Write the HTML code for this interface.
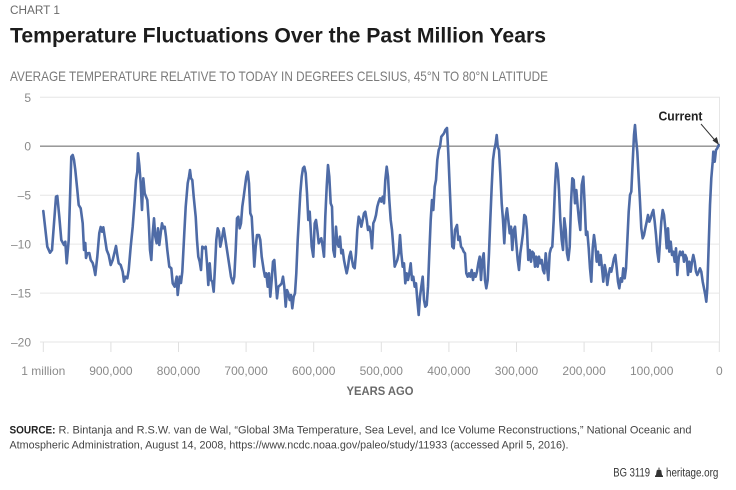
<!DOCTYPE html>
<html><head><meta charset="utf-8"><style>
html,body{margin:0;padding:0;background:#fff;}
svg{display:block;font-family:"Liberation Sans",sans-serif;}
</style></head><body>
<svg width="736" height="490" viewBox="0 0 736 490" xmlns="http://www.w3.org/2000/svg">
<rect width="736" height="490" fill="#fff"/>
<text x="10" y="14" font-size="11.5" fill="#6a6a6a" textLength="50" lengthAdjust="spacingAndGlyphs">CHART 1</text>
<text x="10" y="42.7" font-size="21.5" font-weight="bold" fill="#1c1c1c" textLength="536" lengthAdjust="spacingAndGlyphs">Temperature Fluctuations Over the Past Million Years</text>
<text x="10" y="81" font-size="14" fill="#7a7a7a" textLength="538" lengthAdjust="spacingAndGlyphs">AVERAGE TEMPERATURE RELATIVE TO TODAY IN DEGREES CELSIUS, 45°N TO 80°N LATITUDE</text>
<!-- gridlines -->
<g stroke="#e6e6e6" stroke-width="1">
<line x1="40" y1="97.3" x2="720" y2="97.3"/>
<line x1="40" y1="195.2" x2="720" y2="195.2"/>
<line x1="40" y1="244.1" x2="720" y2="244.1"/>
<line x1="40" y1="293.1" x2="720" y2="293.1"/>
<line x1="40" y1="342" x2="720" y2="342"/>
<line x1="719.5" y1="97.3" x2="719.5" y2="342"/>
</g>
<g stroke="#e0e0e0" stroke-width="1">
<line x1="43.3" y1="342" x2="43.3" y2="352"/>
<line x1="110.9" y1="342" x2="110.9" y2="352"/>
<line x1="178.5" y1="342" x2="178.5" y2="352"/>
<line x1="246.1" y1="342" x2="246.1" y2="352"/>
<line x1="313.7" y1="342" x2="313.7" y2="352"/>
<line x1="381.3" y1="342" x2="381.3" y2="352"/>
<line x1="448.9" y1="342" x2="448.9" y2="352"/>
<line x1="516.5" y1="342" x2="516.5" y2="352"/>
<line x1="584.1" y1="342" x2="584.1" y2="352"/>
<line x1="651.7" y1="342" x2="651.7" y2="352"/>
<line x1="719.3" y1="342" x2="719.3" y2="352"/>
</g>
<line x1="40" y1="146.2" x2="720" y2="146.2" stroke="#8c8c8c" stroke-width="1.3"/>
<!-- y labels -->
<g font-size="12" fill="#8a8a8a" text-anchor="end">
<text x="31" y="101.8">5</text>
<text x="31" y="150.7">0</text>
<text x="31" y="199.7">–5</text>
<text x="31" y="248.6">–10</text>
<text x="31" y="297.6">–15</text>
<text x="31" y="346.5">–20</text>
</g>
<!-- x labels -->
<g font-size="12" fill="#8a8a8a" text-anchor="middle">
<text x="43.3" y="375">1 million</text>
<text x="110.9" y="375">900,000</text>
<text x="178.5" y="375">800,000</text>
<text x="246.1" y="375">700,000</text>
<text x="313.7" y="375">600,000</text>
<text x="381.3" y="375">500,000</text>
<text x="448.9" y="375">400,000</text>
<text x="516.5" y="375">300,000</text>
<text x="584.1" y="375">200,000</text>
<text x="651.7" y="375">100,000</text>
<text x="719.3" y="375">0</text>
</g>
<text x="346.5" y="395" font-size="11.5" font-weight="bold" fill="#6a6a6a" textLength="67" lengthAdjust="spacingAndGlyphs">YEARS AGO</text>
<!-- series -->
<polyline fill="none" stroke="#4e6ba6" stroke-width="2.6" stroke-linejoin="round" stroke-linecap="round" points="
43.3,211 47.3,246.7 50,252.7 52,250 56,196.7 57.3,196 59.3,216.7 61.3,240 64,245 65.3,241.7 66.7,263.3 68.7,240 71.3,156.7 72.7,155 74,160 75.3,170 77.3,190 78.7,205 80.7,208.3 82.7,223.3 84,250 85.3,243 86,258 87.3,253.3 89.3,253 90.7,260 92.7,263 94,268 95.3,275 97.3,256.7 99.3,233 100.7,227 102,231.7 103.3,227.3 104.7,236.7 106.7,250 108.7,255 110.7,265 112.7,260 114.7,251.7 116,246 117.3,255 118.7,263.3 120.7,265 122.7,271.7 124,281.7 125.3,276.7 127.3,278.3 128.7,270 130.7,246.7 132.7,226.7 134.7,200 136,180 137.3,171.7 138,153.3 139.3,165 140.7,183.3 142,210 143.3,178.3 144.7,193.3 146,196.7 147.3,200 148.7,220 150,250 151.3,260 152.7,233.3 154,218.3 155.3,236.7 156.7,243.3 158,228.3 159.3,245 160.7,233.3 162,223.3 163.3,228.3 164.7,226.7 166,236.7 167.3,250 169.3,266.7 171.3,268.3 172.7,283.3 174.7,286.7
176.7,276.7 177.7,295 179.7,276.7 181,283 182.3,271.7 184.3,233 185.7,206.7 187.7,183.3 189,176.7 190,170 191,178.3 192.3,180 193.7,196.7 195.7,216.7 197,240 198.3,256.7 199.7,261.7 201,270 202.3,246.7 204.3,248.3 205.7,246.7 207,263.3 208.3,285 209.7,263.3 211,280 212.3,281.7 213.7,291.7 215,266.7 216.3,240 217.7,228.3 219,231.7 220.3,246.7 221.7,240 223.7,228.3 225,236.7 227,250 229,263.3 231,276.7 233,283.3 234.3,276.7 235.7,250 237,218.3 238.3,216.7 239.7,228.3 241,223.3 242.3,206.7 243.7,196.7 245,186.7 246.3,176.7 247.7,171.7 249,183.3 250.3,213.3 251.7,216.7 253,240 254.3,266.7 255.7,246.7 257,235 259,235 260.3,240 261.7,256.7 263.7,270 265,276.7 266.3,273.3 267.7,286.7 269,273.3 270.3,296.7 271.7,280 273,261.7 274.3,260 275.7,280 277,298.3 278.3,286.7 280.3,285 281.7,283.3 283,276.7 284.3,286.7 285.7,306.7 287,290 288.3,293.3 289.7,300 291,295 292.3,308.3 293.7,296.7 295,293.3 296.3,273.3 297.7,240 299,216.7 300.3,193.3 301.7,176.7 303,168.3 304.3,166.7 305.7,173.3 307,193.3 308.3,220 309.7,211.7
311.7,246.7 313.3,256.7 314.7,223.3 316,220 317.3,230 318.7,243.3 320,240 321.3,238.3 322.7,246.7 324,256.7 325.3,216.7 326.7,186.7 328,165 329.3,176.7 330.7,203.3 332,206.7 333.3,250 334.7,256.7 336,226.7 337.3,243.3 338.7,246.7 340,236.7 341.3,253.3 342.7,250 344,260 345.3,266.7 346.7,273.3 348,266.7 349.3,256.7 350.7,251.7 352,260 353.3,266.7 354.7,268.3 356,253.3 357.3,230 358.7,216.7 360,220 361.3,226.7 362.7,220 364,213.3 365.3,211.7 366.7,220 368,230 369.3,226.7 370.7,233.3 372,248.3 373.3,223.3 374.7,220 376,215 377.3,206.7 378.7,201.7 380,198.3 381.3,201.7 382.7,196.7 384,203.3 385.3,180 386.7,166.7 388,176.7 389.3,200 390.7,220 392,230 393.3,246.7 394.7,266.7 396,263.3 397.3,260 398.7,253.3 400,235 401.3,253.3 402.7,266.7 404,263.3 405.3,283.3 406.7,273.3 408,280 409.3,273.3 410.7,263.3 412,280 413.3,276.7 414.7,286.7 416,283.3 417.3,300 418.7,315 420,296.7 421.3,286.7 422.7,276.7 424,300 425.3,306.7 426.7,305 428,286.7 429.3,253.3 430.7,220 432,200 433.3,210 434.7,186.7 436,180 437.3,160 438.7,150 440,146.7 441.3,136.7 442.7,135 444,133.3 445.3,130
447,128 448.3,153.3 449.7,186.7 451,216.7 452.3,246.7 453.7,248.3 455,230 457,225 458.3,240 459.7,236.7 461,246.7 462.3,248.3 463.7,251.7 465,253.3 466.3,273.3 467.7,276.7 469,273.3 470.3,276.7 471.7,270 473,280 474.3,273.3 475.7,276.7 477,271.7 478.3,263.3 479.7,256.7 481,280 482.3,260 483.7,253.3 485,280 486.3,288.3 487.7,280 489,253.3 490.3,220 491.7,186.7 493,160 494.3,150 495.7,143.3 496.7,135 497.7,146.7 499,150 500.3,173.3 501.7,203.3 503,220 504.3,243.3 505.7,216.7 507,208.3 508.3,220 509.7,233.3 511,226.7 512.3,250 513.7,230 515,226.7 516.3,243.3 517.7,260 519,270 520.3,253.3 521.7,243.3 523,233.3 524.3,215 525.7,216.7 527,230 528.3,260 529.7,250 531,261.7 532.3,251.7 533.7,253.3 535,266.7 536.3,256.7 537.7,266.7 539,256.7 540.3,263.3 541.7,260 543,270 544.3,273.3 545.7,253.3 547,266.7 548.3,280 549.7,253.3 551,248.3 552.3,246.7 553.7,220 555,186.7 556.3,163.3 557.7,170 559,190 560.3,220 561.7,240 563,250 564.3,218.3 565.7,230 567,253.3 568.3,260 569.7,246.7 571,203.3 572.3,178.3 573.7,180 575,203.3 576.3,190 577.7,206.7 579,220 580.3,230
581.7,185 583.3,176.7 584.7,205 586,235 587.3,231.7 588.7,248.3 590,268.3 591.3,281.7 592.7,248.3 594,235 595.3,245 596.7,261.7 598,251.7 599.3,265 600.7,255 602,268.3 603.3,281.7 604.7,265 606,271.7 607.3,285 608.7,275 610,268.3 611.3,271.7 612.7,265 614,258.3 615.3,255 616.7,268.3 618,281.7 619.3,288.3 620.7,278.3 622,281.7 623.3,268.3 624.7,278.3 626,268.3 627.3,241.7 628.7,211.7 630,195 631.3,191.7 632.7,161.7 634,135 635,125 636,138.3 637.3,151.7 638.7,178.3 640,201.7 641.3,228.3 642.7,238.3 644,235 645.3,228.3 646.7,221.7 648,215 649.3,221.7 650.7,218.3 652,213.3 653.3,210 654.7,221.7 656,235 657.3,251.7 658.7,261.7 660,241.7 661.3,221.7 662.7,210 664,215 665.3,228.3 666.7,248.3 668,228.3 669.3,251.7 670.7,241.7 672,255 673.3,251.7 674.7,261.7 676,248.3 677.3,275 678.7,258.3 680,251.7 681.3,255 682.7,251.7 684,261.7 685.3,255 686.7,258.3 688,275 689.3,261.7 690.7,271.7 692,261.7 693.3,255 694.7,261.7 696,271.7 697.3,275 698.7,271.7 700,268.3 701.3,271.7 702.7,281.7 704,288.3 705.3,295 706.3,301.7 707.3,288.3 708.7,245 710,205 711.3,178.3 712.7,161.7 713.3,151.7 714.7,161.7 716,150 717.3,148.3 718.7,145"/>
<!-- Current annotation -->
<text x="658.5" y="120.5" font-size="12.5" font-weight="bold" fill="#222" textLength="44" lengthAdjust="spacingAndGlyphs">Current</text>
<line x1="701" y1="124" x2="716" y2="141.5" stroke="#333" stroke-width="1"/>
<polygon points="719,145 712.5,140.5 716.8,137" fill="#333"/>
<!-- source -->
<text x="9.5" y="433.3" font-size="11" font-weight="bold" fill="#222" textLength="46" lengthAdjust="spacingAndGlyphs">SOURCE:</text>
<text x="58.5" y="433.3" font-size="11" fill="#444" textLength="633" lengthAdjust="spacingAndGlyphs">R. Bintanja and R.S.W. van de Wal, “Global 3Ma Temperature, Sea Level, and Ice Volume Reconstructions,” National Oceanic and</text>
<text x="9.5" y="448.3" font-size="11" fill="#444" textLength="559" lengthAdjust="spacingAndGlyphs">Atmospheric Administration, August 14, 2008, https://www.ncdc.noaa.gov/paleo/study/11933 (accessed April 5, 2016).</text>
<text x="613.3" y="476.7" font-size="11.5" fill="#333" textLength="36.7" lengthAdjust="spacingAndGlyphs">BG 3119</text>
<path d="M655,477 L663,477 L663,475.8 L662,475 L661.3,470.5 Q659,468.3 656.7,470.5 L656,475 L655,475.8 Z" fill="#333"/>
<rect x="658.5" y="467.6" width="1" height="1.4" fill="#333"/>
<text x="666" y="476.7" font-size="11.5" fill="#333" textLength="52.3" lengthAdjust="spacingAndGlyphs">heritage.org</text>
</svg>
</body></html>
